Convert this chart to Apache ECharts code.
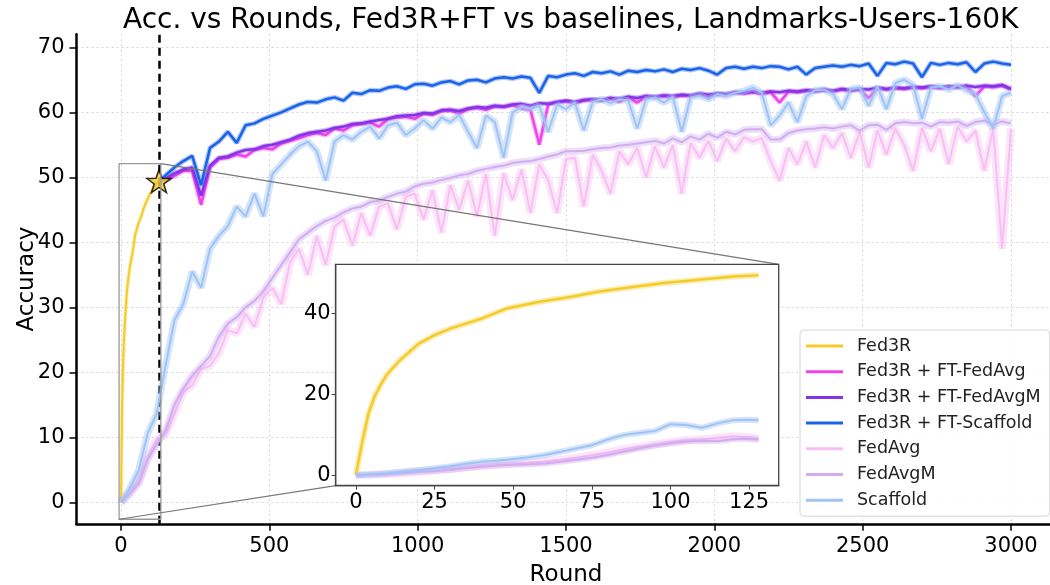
<!DOCTYPE html>
<html><head><meta charset="utf-8">
<script src="https://cdn.jsdelivr.net/npm/echarts@6/dist/echarts.min.js"></script>
<style>html,body{margin:0;padding:0;background:#fff}#c{width:1050px;height:585px}</style>
</head><body><div id="c"></div>
<script>
// ---------------- DATA ----------------
const title = 'Acc. vs Rounds, Fed3R+FT vs baselines, Landmarks-Users-160K';
const xTicks = [0, 500, 1000, 1500, 2000, 2500, 3000];
const yTicks = [0, 10, 20, 30, 40, 50, 60, 70];
const insetXTicks = [0, 25, 50, 75, 100, 125];
const insetYTicks = [0, 20, 40];
const switchRound = 128;

const fed3rRounds = [0, 2, 4, 6, 8, 10, 14, 20, 25, 30, 40, 48, 58, 68, 77, 88, 98, 109, 120, 128];
const fed3rVals   = [0, 8, 15.2, 19.5, 22.5, 25, 28.4, 32.5, 34.6, 36.2, 38.7, 41.2, 42.8, 44, 45.3, 46.5, 47.5, 48.3, 49.1, 49.4];

const baseRounds = [
  0, 30, 60, 90, 120, 150, 180, 210, 240, 270,
  300, 330, 360, 390, 420, 450, 480, 510, 540, 570,
  600, 630, 660, 690, 720, 750, 780, 810, 840, 870,
  900, 930, 960, 990, 1020, 1050, 1080, 1110, 1140, 1170,
  1200, 1230, 1260, 1290, 1320, 1350, 1380, 1410, 1440, 1470,
  1500, 1530, 1560, 1590, 1620, 1650, 1680, 1710, 1740, 1770,
  1800, 1830, 1860, 1890, 1920, 1950, 1980, 2010, 2040, 2070,
  2100, 2130, 2160, 2190, 2220, 2250, 2280, 2310, 2340, 2370,
  2400, 2430, 2460, 2490, 2520, 2550, 2580, 2610, 2640, 2670,
  2700, 2730, 2760, 2790, 2820, 2850, 2880, 2910, 2940, 2970,
  3000];
const scaffoldVals = [
  0, 2.2, 5.0, 10.6, 13.6, 21, 28, 30.5, 35.5, 33,
  39, 41, 42.5, 45.5, 44, 47.5, 44, 50.5, 52, 53.5,
  54.8, 55.5, 54, 49.5, 55.5, 56.5, 55.8, 57, 57.8, 56,
  58, 58.4, 56.5, 57.5, 58.8, 57.5, 59.2, 58.5, 59.6, 57,
  54.5, 59.5, 58.5, 53, 60, 60.8, 60.5, 61, 57, 61.2,
  60.5, 61.5, 57.2, 61.6, 62, 61.4, 62, 61.8, 57.5, 62,
  62.3, 61.5, 62.4, 57, 62.3, 62.6, 62, 62.8, 62.5, 63,
  63.3, 63.8, 63, 58, 59.5, 61.5, 58.5, 62.5, 63.4, 63.5,
  62.8, 60.5, 63.6, 63.8, 61, 64, 60.5, 64.5, 65, 64.2,
  59, 63.8, 64, 63.5, 64.2, 63.4, 62.8, 60, 57.5, 62.5,
  63];
const fedAvgMVals = [
  0, 1.3, 2.9, 6.6, 8.9, 11, 15, 17.5, 19.5, 21,
  22.5, 25.5, 27.5, 28.5, 30, 31, 32.5, 34.5, 36.5, 38.5,
  40.5, 41.5, 42.5, 43.3, 43.8, 44.6, 45.2, 45.5, 46.2, 46.4,
  47, 47.5, 47.8, 48.6, 49, 49.2, 49.6, 49.9, 50.3, 50.5,
  51, 51.3, 51.6, 51.8, 52.2, 52.4, 52.5, 52.8, 53.2, 53.5,
  54, 54, 54.1, 54.3, 54.5, 54.6, 54.9, 55, 55.2, 55.4,
  55.6, 55.2, 56, 55.4, 56.3, 55.8, 56.7, 56.1, 57, 56.6,
  57.3, 57.4, 57.4, 55.8, 55.8, 56.8, 57.2, 57.4, 57.5, 57.7,
  57.5, 57.8, 58, 57.2, 58, 58.1, 57.3, 58.3, 58.5, 58.3,
  58.4, 57.8, 58.5, 58.4, 58.6, 57.9, 58.5, 58.7, 58.1, 58.6,
  58.3];
const fedAvgVals = [
  0, 1.6, 3.4, 7.0, 9.6, 10.5, 13.5, 17, 18, 20.5,
  21, 23, 26.5, 26, 29, 27, 31.5, 33, 30.5, 37,
  39, 35, 41, 36.5, 42.5, 43.5, 39.5, 44.5, 41, 45.5,
  46, 42, 47, 47.5, 43.5, 48, 41.5, 48.8, 45, 49.5,
  44, 50.5, 41, 50.6, 46.5, 51.2, 44.5, 52, 49.5, 44.5,
  52.8, 53, 45.5, 53.5, 51, 47.5, 54, 52, 54.5, 50,
  54.8, 51.5, 55, 47.5, 55.3, 53, 55.6, 52.5, 56, 54,
  56.2, 55.5, 56, 52.5, 49.5, 54.5, 52, 55.5, 51.5, 56.5,
  54.5, 56.8, 53, 57, 51.5, 57.2, 53.5, 57.5, 55, 51,
  57.6, 54, 57.5, 52, 57.8, 55.5, 57.2, 51, 57.5, 39,
  57.5];

const ftRounds = [
  128,
  150, 180, 210, 240, 270, 300, 330, 360, 390, 420,
  450, 480, 510, 540, 570, 600, 630, 660, 690, 720,
  750, 780, 810, 840, 870, 900, 930, 960, 990, 1020,
  1050, 1080, 1110, 1140, 1170, 1200, 1230, 1260, 1290, 1320,
  1350, 1380, 1410, 1440, 1470, 1500, 1530, 1560, 1590, 1620,
  1650, 1680, 1710, 1740, 1770, 1800, 1830, 1860, 1890, 1920,
  1950, 1980, 2010, 2040, 2070, 2100, 2130, 2160, 2190, 2220,
  2250, 2280, 2310, 2340, 2370, 2400, 2430, 2460, 2490, 2520,
  2550, 2580, 2610, 2640, 2670, 2700, 2730, 2760, 2790, 2820,
  2850, 2880, 2910, 2940, 2970, 3000];
const ftScaffoldVals = [
  49.4,
  50.3, 51.5, 52.5, 53.3, 48.8, 54.5, 55.5, 57, 55.3, 58,
  58.3, 59, 59.5, 60, 60.6, 61.2, 61.6, 61.5, 62, 62.3,
  61.8, 63, 62.8, 63.4, 63.3, 63.8, 64, 63.6, 64.3, 64.4,
  64.1, 64.6, 64.8, 64.3, 64.9, 65, 64.6, 65.2, 65.4, 65.2,
  65.5, 65.3, 63, 65.6, 65.4, 65.8, 66, 65.6, 66.2, 66,
  66.3, 65.8, 66.4, 66.2, 66.5, 66.3, 66.6, 66.2, 66.7, 66.5,
  66.8, 66.4, 65.8, 66.8, 67, 66.7, 67, 66.8, 67.1, 67,
  66.6, 67, 65.8, 66.8, 67, 67.2, 67, 67.3, 67.1, 67.5,
  65.6, 67.6, 67.4, 67.8, 67.5, 65.4, 67.6, 67.3, 67.6, 67.4,
  67.7, 66.2, 67.5, 67.8, 67.5, 67.3];
const ftFedAvgMVals = [
  49.4,
  49.8, 50.6, 51.2, 51.5, 47.2, 51.8, 53, 53.2, 53.8, 54.2,
  54.3, 54.8, 55, 55.4, 55.8, 56.4, 56.8, 57, 57.2, 57.6,
  57.8, 58.2, 58.3, 58.6, 58.8, 59, 59.4, 59.5, 59.6, 59.9,
  59.8, 60.3, 60.4, 60.2, 60.6, 60.8, 60.7, 61, 60.9, 61.2,
  61.3, 61, 61.4, 61.3, 61.6, 61.8, 61.6, 61.9, 62, 61.9,
  62.2, 62.1, 62.4, 62.2, 62.5, 62.4, 62.6, 62.5, 62.7, 62.6,
  62.9, 62.7, 62.9, 62.8, 63.1, 63, 63.2, 63, 63.2, 63.1,
  63.3, 63.2, 63.4, 63.3, 63.5, 63.3, 63.6, 63.4, 63.6, 63.5,
  63.8, 63.6, 63.8, 63.7, 63.9, 63.8, 64, 63.8, 64, 63.9,
  64.1, 63.9, 64.1, 64, 64.2, 63.6];
const ftFedAvgVals = [
  49.4,
  49.5, 50.2, 51, 51, 45.8, 51.5, 52.8, 53, 53.5, 53.2,
  54.2, 54.5, 54.3, 55.2, 55.6, 56, 56.5, 56.8, 56.5, 57.5,
  57.2, 58, 58.2, 58.4, 57.8, 59, 59.2, 59.3, 59, 59.8,
  59.6, 60.2, 60.3, 59.8, 60.5, 60.7, 60.4, 60.9, 60.8, 61.1,
  60.6, 60.4, 55, 61.2, 61.5, 61.7, 61.4, 61.8, 61.9, 61.8,
  62.1, 61.6, 62.3, 61.5, 62.4, 62.3, 62.5, 62.3, 62.6, 62.5,
  62.8, 62.4, 62.8, 62.7, 63, 62.9, 63.1, 62.8, 63.1, 61.5,
  63.2, 63.1, 63.3, 63.2, 63.4, 63.2, 63.5, 63.3, 63.5, 62.2,
  63.7, 63.5, 63.7, 63.6, 63.8, 63.7, 63.9, 63.7, 63.9, 63.8,
  64, 62.5, 64, 63.9, 64.1, 63.5];

const insetRounds = [0, 5, 10, 15, 20, 25, 30, 35, 40, 45, 50, 55, 60, 65, 70, 75, 80, 85, 90, 95, 100, 105, 110, 115, 120, 125, 128];
const insetScaffoldVals = [0, 0.2, 0.5, 0.9, 1.3, 1.7, 2.2, 2.8, 3.3, 3.6, 4.0, 4.4, 5.0, 5.8, 6.6, 7.4, 8.8, 9.9, 10.4, 10.9, 12.6, 12.4, 11.7, 12.8, 13.6, 13.7, 13.6];
const insetFedAvgMVals  = [0, 0.1, 0.3, 0.5, 0.8, 1.0, 1.3, 1.7, 2.1, 2.4, 2.6, 2.7, 2.9, 3.3, 3.8, 4.3, 5.0, 5.8, 6.6, 7.3, 7.9, 8.3, 8.5, 8.4, 8.9, 9.0, 8.8];
const insetFedAvgVals   = [0, 0.1, 0.3, 0.6, 0.9, 1.2, 1.6, 2.0, 2.4, 2.7, 2.9, 3.1, 3.4, 3.8, 4.3, 5.0, 5.6, 6.4, 7.0, 7.6, 8.2, 8.7, 8.8, 9.3, 9.6, 9.4, 9.0];

// ---------------- STYLE / LAYOUT ----------------
const FONT = 'DejaVu Sans';
const C = {
  fed3r: '#f5cb2a', ftAvg: '#ee44ee', ftAvgM: '#8433e6', ftScaf: '#1a62e8',
  avg: '#f7bff2', avgM: '#d2acf0', scaf: '#9fc3f5'
};
const mainLim = {xmin: -150, xmax: 3150, ymin: -3.3, ymax: 72};
const insetLim = {xmin: -6.4, xmax: 134.4, ymin: -2.6, ymax: 52.1};

function pairs(xs, ys) { return xs.map((x, i) => [x, ys[i]]); }

function lineSeries(name, data, color, width, grid, z, bandW, bandOp, extra) {
  const band = {
    name: name + ' (std)', type: 'line', xAxisIndex: grid, yAxisIndex: grid, data: data,
    symbol: 'none', showSymbol: false, silent: true, z: z,
    lineStyle: {color: color, width: bandW, opacity: bandOp}, itemStyle: {color: color}
  };
  const line = Object.assign({
    name: name, type: 'line', xAxisIndex: grid, yAxisIndex: grid, data: data,
    symbol: 'none', showSymbol: false, silent: true, z: z + 1,
    lineStyle: {color: color, width: width}, itemStyle: {color: color}
  }, extra || {});
  return [band, line];
}

const names = ['Fed3R', 'Fed3R + FT-FedAvg', 'Fed3R + FT-FedAvgM', 'Fed3R + FT-Scaffold', 'FedAvg', 'FedAvgM', 'Scaffold'];

const series = [].concat(
  lineSeries(names[0], pairs(fed3rRounds, fed3rVals), C.fed3r, 2, 0, 2, 4, 0.35, {
    markLine: {
      silent: true, symbol: ['none', 'none'], label: {show: false},
      lineStyle: {color: '#000', type: [8, 5], width: 2.5},
      data: [{xAxis: switchRound}]
    }
  }),
  lineSeries(names[1], pairs(ftRounds, ftFedAvgVals), C.ftAvg, 2.5, 0, 4, 5, 0.35),
  lineSeries(names[2], pairs(ftRounds, ftFedAvgMVals), C.ftAvgM, 2.5, 0, 6, 5, 0.35),
  lineSeries(names[3], pairs(ftRounds, ftScaffoldVals), C.ftScaf, 2.5, 0, 8, 5, 0.35),
  lineSeries(names[4], pairs(baseRounds, fedAvgVals), C.avg, 2, 0, 10, 8, 0.4),
  lineSeries(names[5], pairs(baseRounds, fedAvgMVals), C.avgM, 2, 0, 12, 7, 0.4),
  lineSeries(names[6], pairs(baseRounds, scaffoldVals), C.scaf, 2, 0, 14, 7, 0.45),
  // inset
  lineSeries(names[0], pairs(fed3rRounds, fed3rVals), C.fed3r, 2.5, 1, 60, 6, 0.35),
  lineSeries(names[4], pairs(insetRounds, insetFedAvgVals), C.avg, 2, 1, 62, 8, 0.4),
  lineSeries(names[5], pairs(insetRounds, insetFedAvgMVals), C.avgM, 2, 1, 64, 6, 0.4),
  lineSeries(names[6], pairs(insetRounds, insetScaffoldVals), C.scaf, 2, 1, 66, 6, 0.45),
  [{
    name: 'switch', type: 'scatter', xAxisIndex: 0, yAxisIndex: 0, silent: true, z: 30,
    data: [[fed3rRounds[fed3rRounds.length - 1], fed3rVals[fed3rVals.length - 1]]],
    symbol: 'path://M0,-10 L2.35,-3.24 L9.51,-3.09 L3.8,1.24 L5.88,8.09 L0,4 L-5.88,8.09 L-3.8,1.24 L-9.51,-3.09 L-2.35,-3.24 Z',
    symbolSize: 24, symbolKeepAspect: true,
    itemStyle: {color: C.fed3r, borderColor: '#000', borderWidth: 1.6}
  }]
);

const axisTxt = {color: '#000', fontFamily: FONT, fontSize: 21, formatter: v => String(v)};
const gridLine = {show: true, lineStyle: {color: '#d4d4d4', type: [2, 3], width: 1}};

const option = {
  animation: false,
  backgroundColor: '#fff',
  textStyle: {fontFamily: FONT},
  title: {
    text: title, left: 118, top: 2,
    textStyle: {fontFamily: FONT, fontSize: 28, fontWeight: 'normal', color: '#000'}
  },
  legend: {
    data: names, orient: 'vertical', left: 800, top: 330, z: 100,
    icon: 'rect', itemWidth: 37, itemHeight: 3, itemGap: 5.7,
    padding: [6, 9, 6, 6],
    backgroundColor: 'rgba(255,255,255,0.85)', borderColor: '#d6d6d6', borderWidth: 1, borderRadius: 4,
    textStyle: {fontFamily: FONT, fontSize: 17.5, color: '#222', lineHeight: 20, padding: [0, 0, 0, 9]}
  },
  grid: [
    {left: 76.5, top: 34.3, width: 979, height: 489.5, containLabel: false, outerBoundsMode: 'none'},
    {left: 335.7, top: 264.3, width: 443, height: 221.4, containLabel: false, outerBoundsMode: 'none'}
  ],
  xAxis: [
    {
      type: 'value', gridIndex: 0, min: mainLim.xmin, max: mainLim.xmax,
      axisLine: {show: true, onZero: false, lineStyle: {color: '#000', width: 2.5}},
      axisTick: {show: true, length: 7, lineStyle: {color: '#000', width: 1.5}, customValues: xTicks},
      axisLabel: Object.assign({customValues: xTicks, margin: 12}, axisTxt),
      splitLine: gridLine,
      name: 'Round', nameLocation: 'middle', nameGap: 40,
      nameTextStyle: {fontFamily: FONT, fontSize: 23, color: '#000'}
    },
    {
      type: 'value', gridIndex: 1, min: insetLim.xmin, max: insetLim.xmax, z: 70,
      axisLine: {show: true, onZero: false, lineStyle: {color: '#444', width: 1.3}},
      axisTick: {show: true, length: 4, lineStyle: {color: '#444', width: 1}, customValues: insetXTicks},
      axisLabel: Object.assign({customValues: insetXTicks, margin: 6}, axisTxt),
      splitLine: {show: false}
    }
  ],
  yAxis: [
    {
      type: 'value', gridIndex: 0, min: mainLim.ymin, max: mainLim.ymax,
      axisLine: {show: true, onZero: false, lineStyle: {color: '#000', width: 2.5}},
      axisTick: {show: true, length: 7, lineStyle: {color: '#000', width: 1.5}, customValues: yTicks},
      axisLabel: Object.assign({customValues: yTicks, margin: 12}, axisTxt),
      splitLine: gridLine,
      name: 'Accuracy', nameLocation: 'middle', nameGap: 38, nameMoveOverlap: false,
      nameTextStyle: {fontFamily: FONT, fontSize: 23, color: '#000'}
    },
    {
      type: 'value', gridIndex: 1, min: insetLim.ymin, max: insetLim.ymax, z: 70,
      axisLine: {show: true, onZero: false, lineStyle: {color: '#444', width: 1.3}},
      axisTick: {show: true, length: 4, lineStyle: {color: '#444', width: 1}, customValues: insetYTicks},
      axisLabel: Object.assign({customValues: insetYTicks, margin: 5}, axisTxt),
      splitLine: {show: false}
    }
  ],
  series: series
};

const chart = echarts.init(document.getElementById('c'), null, {renderer: 'canvas'});
chart.setOption(option);

// zoom rectangle, connectors and inset box, placed through the axes' own scales
const bl = chart.convertToPixel({gridIndex: 0}, [insetLim.xmin, insetLim.ymin]);
const tr = chart.convertToPixel({gridIndex: 0}, [insetLim.xmax, insetLim.ymax]);
const ibl = chart.convertToPixel({gridIndex: 1}, [insetLim.xmin, insetLim.ymin]);
const itr = chart.convertToPixel({gridIndex: 1}, [insetLim.xmax, insetLim.ymax]);
chart.setOption({
  graphic: {elements: [
    {type: 'rect', z: 40, silent: true,
      shape: {x: bl[0], y: tr[1], width: tr[0] - bl[0], height: bl[1] - tr[1]},
      style: {fill: 'none', stroke: '#9a9a9a', lineWidth: 1.3}},
    {type: 'line', z: 40, silent: true,
      shape: {x1: tr[0], y1: tr[1], x2: itr[0], y2: itr[1]},
      style: {stroke: '#777', lineWidth: 1.2}},
    {type: 'line', z: 40, silent: true,
      shape: {x1: bl[0], y1: bl[1], x2: ibl[0], y2: ibl[1]},
      style: {stroke: '#777', lineWidth: 1.2}},
    {type: 'rect', z: 50, silent: true,
      shape: {x: ibl[0], y: itr[1], width: itr[0] - ibl[0], height: ibl[1] - itr[1]},
      style: {fill: '#fff', stroke: 'none'}},
    {type: 'rect', z: 80, silent: true,
      shape: {x: ibl[0], y: itr[1], width: itr[0] - ibl[0], height: ibl[1] - itr[1]},
      style: {fill: 'none', stroke: '#444', lineWidth: 1.3}}
  ]}
});
</script>
</body></html>
